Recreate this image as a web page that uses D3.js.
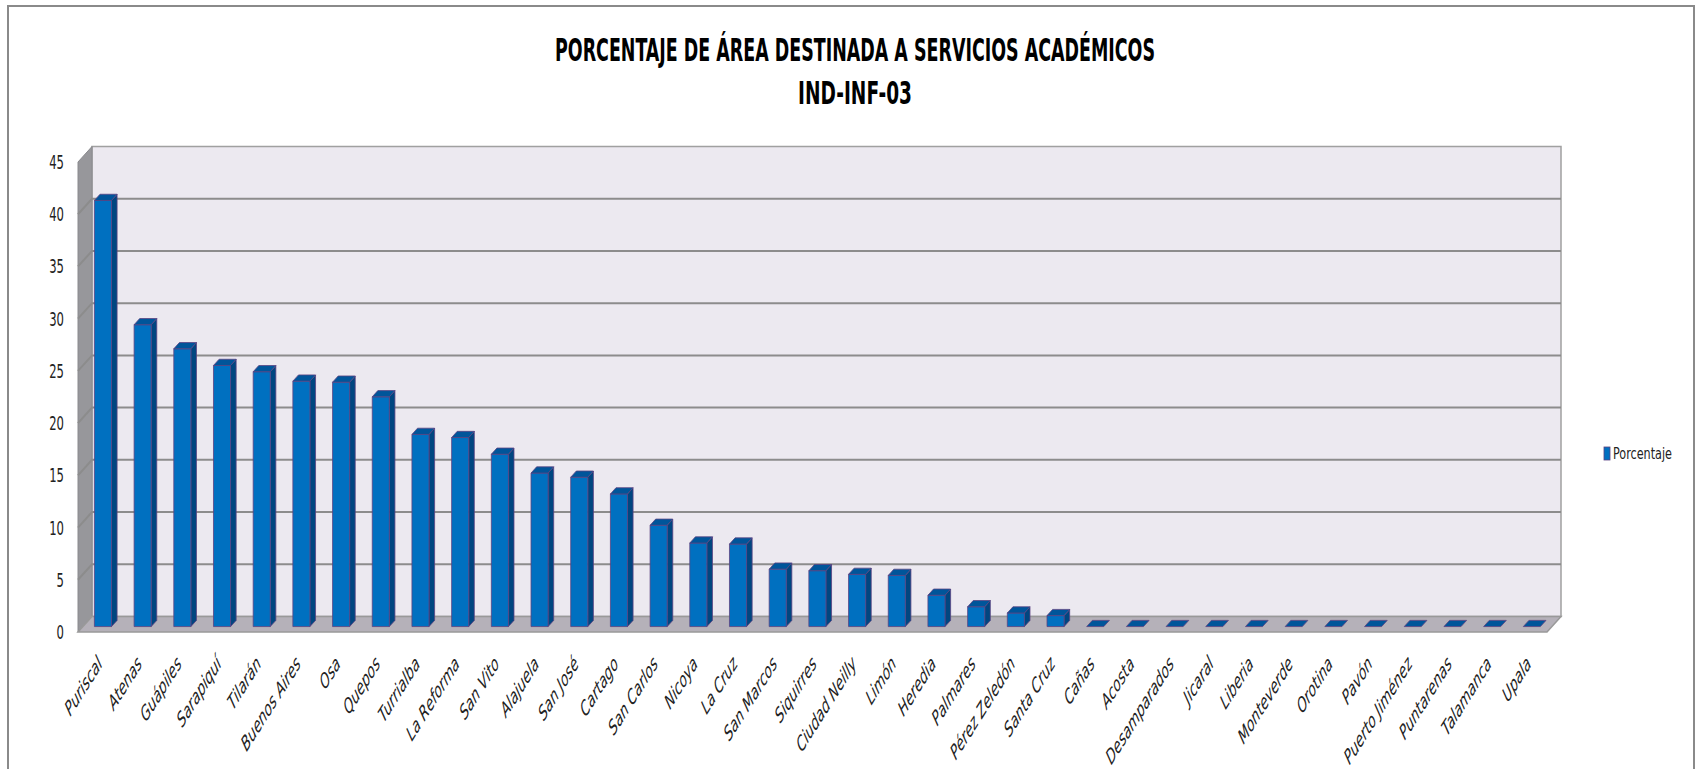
<!DOCTYPE html>
<html>
<head>
<meta charset="utf-8">
<script src="https://cdnjs.cloudflare.com/ajax/libs/d3/7.8.5/d3.min.js"></script>
<style>
  body { margin: 0; background: #fff; }
  svg { display: block; }
  .narrow { font-family: 'DejaVu Sans Condensed', 'Liberation Sans Narrow', sans-serif; }
</style>
</head>
<body>
<div id="chart"></div>
<script>
const titleLines = ['PORCENTAJE DE ÁREA DESTINADA A SERVICIOS ACADÉMICOS', 'IND-INF-03'];
const seriesName = 'Porcentaje';
const sedes = ['Puriscal', 'Atenas', 'Guápiles', 'Sarapiquí', 'Tilarán', 'Buenos Aires', 'Osa', 'Quepos',
               'Turrialba', 'La Reforma', 'San Vito', 'Alajuela', 'San José', 'Cartago', 'San Carlos',
               'Nicoya', 'La Cruz', 'San Marcos', 'Siquirres', 'Ciudad Neilly', 'Limón', 'Heredia',
               'Palmares', 'Pérez Zeledón', 'Santa Cruz', 'Cañas', 'Acosta', 'Desamparados', 'Jicaral',
               'Liberia', 'Monteverde', 'Orotina', 'Pavón', 'Puerto Jiménez', 'Puntarenas', 'Talamanca', 'Upala'];
const porcentajes = [40.8, 28.9, 26.6, 25.0, 24.4, 23.5, 23.4, 22.0, 18.4, 18.1, 16.5, 14.7, 14.3, 12.7, 9.7,
                     8.0, 7.9, 5.5, 5.35, 5.0, 4.9, 3.0, 1.9, 1.3, 1.05, 0, 0, 0, 0,
                     0, 0, 0, 0, 0, 0, 0, 0];
const yTicks = [0, 5, 10, 15, 20, 25, 30, 35, 40, 45];

const svgWidth = 1696;
const svgHeight = 769;
// front plane of the 3d box, and the depth vector towards the back wall
const plot = { left: 78, right: 1547, top: 162, bottom: 632 };
const depth = { dx: 14, dy: -15.5 };
// the original picture is squeezed sideways, so text gets the same squeeze
const squeeze = 0.63;

const svg = d3.select('#chart')
            .append('svg')
            .attr('width', svgWidth)
            .attr('height', svgHeight);

svg.append('rect')
    .attr('x', 8).attr('y', 6)
    .attr('width', 1686).attr('height', 770)
    .attr('fill', '#fff')
    .attr('stroke', '#8a8a8a')
    .attr('stroke-width', 2);

const x = d3.scaleBand()
            .domain(sedes)
            .range([plot.left, plot.right])
            .paddingInner(0.57)
            .paddingOuter(0.29);
const y = d3.scaleLinear()
            .domain([0, 45])
            .range([plot.bottom, plot.top]);

const pts = arr => arr.map(p => p.join(',')).join(' ');
const off = (f, p) => [p[0] + depth.dx * f, p[1] + depth.dy * f];

// walls
const backWall = svg.append('g');
backWall.append('polygon')
    .attr('points', pts([off(1, [plot.left, plot.top]), off(1, [plot.right, plot.top]),
                         off(1, [plot.right, plot.bottom]), off(1, [plot.left, plot.bottom])]))
    .attr('fill', '#ece9f0')
    .attr('stroke', '#a0a0a0')
    .attr('stroke-width', 1.5);
backWall.append('polygon')
    .attr('points', pts([[plot.left, plot.top], off(1, [plot.left, plot.top]),
                         off(1, [plot.left, plot.bottom]), [plot.left, plot.bottom]]))
    .attr('fill', '#97979b')
    .attr('stroke', '#8a8a8e')
    .attr('stroke-width', 1);
backWall.append('polygon')
    .attr('points', pts([[plot.left, plot.bottom], off(1, [plot.left, plot.bottom]),
                         off(1, [plot.right, plot.bottom]), [plot.right, plot.bottom]]))
    .attr('fill', '#b5b1b9')
    .attr('stroke', '#999')
    .attr('stroke-width', 1.5);

// gridlines on back wall and side wall
const grid = svg.append('g');
yTicks.filter(t => t > 0 && t < 45).forEach(t => {
    grid.append('polyline')
        .attr('points', pts([[plot.left, y(t)], off(1, [plot.left, y(t)]), off(1, [plot.right, y(t)])]))
        .attr('fill', 'none')
        .attr('stroke', '#8c8c8c')
        .attr('stroke-width', 2);
});

// y axis labels
svg.append('g')
    .selectAll('text').data(yTicks).enter().append('text')
    .attr('class', 'narrow')
    .attr('transform', d => `translate(64, ${y(d) + 7}) scale(0.68, 1)`)
    .attr('text-anchor', 'end')
    .attr('font-size', 19)
    .attr('fill', '#222')
    .text(d => d);

// 3d bars
const f0 = 0.35, f1 = 0.75;
const bars = svg.append('g').selectAll('g').data(sedes).enter().append('g');
bars.each(function(d, i) {
    const g = d3.select(this);
    const xl = x(d), xr = x(d) + x.bandwidth();
    const yt = y(porcentajes[i]), yb = y(0);
    const fl = off(f0, [xl, yt]), fr = off(f0, [xr, yt]), br = off(f0, [xr, yb]), bl = off(f0, [xl, yb]);
    const tl = off(f1, [xl, yt]), trr = off(f1, [xr, yt]), tb = off(f1, [xr, yb]);
    if (porcentajes[i] > 0) {
        g.append('polygon').attr('points', pts([fr, trr, tb, br]))
            .attr('fill', '#004680').attr('stroke', '#5b4382').attr('stroke-width', 0.8);
        g.append('polygon').attr('points', pts([fl, fr, br, bl]))
            .attr('fill', '#0070c0').attr('stroke', '#5b4382').attr('stroke-width', 0.8);
    }
    g.append('polygon').attr('points', pts([fl, tl, trr, fr]))
        .attr('fill', '#00559a').attr('stroke', '#5b4382').attr('stroke-width', 0.8);
});

// category labels
svg.append('g')
    .selectAll('text').data(sedes).enter().append('text')
    .attr('class', 'narrow')
    .attr('transform', d => `translate(${x(d) + x.bandwidth() / 2 + 5}, ${plot.bottom + 33}) scale(${squeeze}, 1) rotate(-45)`)
    .attr('text-anchor', 'end')
    .attr('font-size', 21)
    .attr('font-style', 'italic')
    .attr('fill', '#222')
    .text(d => d);

// title
svg.append('g')
    .selectAll('text').data(titleLines).enter().append('text')
    .attr('class', 'narrow')
    .attr('x', 855)
    .attr('y', (d, i) => i === 0 ? 61 : 104)
    .attr('text-anchor', 'middle')
    .attr('font-size', 32)
    .attr('font-weight', 'bold')
    .attr('fill', '#000')
    .attr('textLength', (d, i) => i === 0 ? 600 : 114)
    .attr('lengthAdjust', 'spacingAndGlyphs')
    .text(d => d);

// legend
svg.append('rect')
    .attr('x', 1604).attr('y', 447)
    .attr('width', 6).attr('height', 13)
    .attr('fill', '#0070c0')
    .attr('stroke', '#5b4382')
    .attr('stroke-width', 0.8);
svg.append('text')
    .attr('class', 'narrow')
    .attr('x', 1613).attr('y', 459)
    .attr('font-size', 15)
    .attr('fill', '#222')
    .attr('textLength', 59)
    .attr('lengthAdjust', 'spacingAndGlyphs')
    .text(seriesName);
</script>
</body>
</html>
